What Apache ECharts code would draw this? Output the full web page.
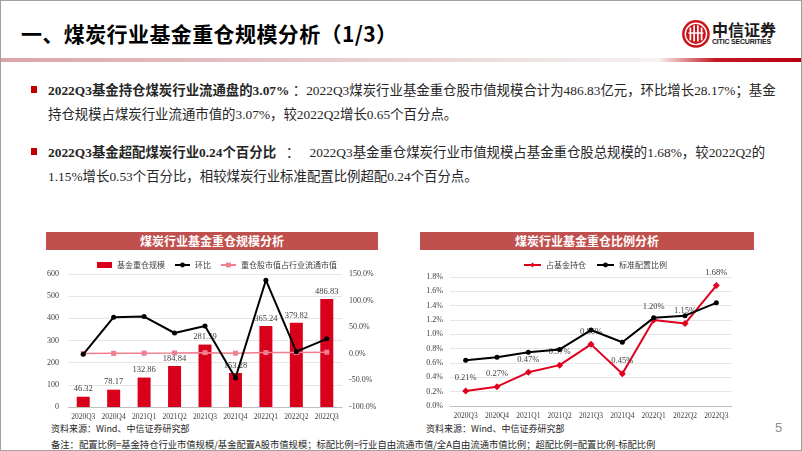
<!DOCTYPE html>
<html><head><meta charset="utf-8">
<script src="https://cdn.jsdelivr.net/npm/echarts@6/dist/echarts.min.js"></script>
<style>
html,body{margin:0;padding:0;background:#fff;}
#slide{position:relative;width:802px;height:451px;box-sizing:border-box;border:1px solid #a0a0a0;overflow:hidden;font-family:"Liberation Serif","Noto Sans CJK SC",serif;color:#262626;}
.abs{position:absolute;white-space:nowrap;}
#title{left:20px;top:17px;font-family:"Noto Sans CJK SC",sans-serif;font-weight:bold;font-size:21px;letter-spacing:0.4px;line-height:30px;color:#000;}
#band{left:0;top:57px;width:802px;height:4px;background:linear-gradient(to right,#dba5a8 0%,#e9cfd0 45%,#efe6e6 70%,#f6f2f2 82%,#c41a24 89%,#b8000f 100%);}
.bullet{width:6px;height:7px;background:#c00000;}
.line{font-size:13.4px;line-height:18px;}
.line b{font-weight:bold;}
.cj{font-family:"Noto Sans CJK SC",sans-serif;}
.tbar{background:#c0504d;color:#fff;font-family:"Noto Sans CJK SC",sans-serif;font-weight:bold;font-size:12px;text-align:center;line-height:18px;height:18px;}
.src{font-family:"Noto Sans CJK SC",sans-serif;font-size:9px;color:#262626;}
#chart{position:absolute;left:0;top:0;width:802px;height:451px;}
</style></head>
<body>
<div id="slide">
  <div class="abs" id="title">一、煤炭行业基金重仓规模分析（1/3）</div>
  <svg class="abs" style="left:680px;top:18px" width="32" height="32" viewBox="0 0 30 30">
    <circle cx="14" cy="14" r="13" fill="#c8161d"/>
    <circle cx="14" cy="14" r="10" fill="none" stroke="#fff" stroke-width="1.3"/>
    <rect x="8" y="8" width="1.6" height="12" fill="#fff"/>
    <rect x="11.5" y="6" width="1.6" height="15" fill="#fff"/>
    <rect x="15" y="6" width="1.6" height="15" fill="#fff"/>
    <rect x="18.5" y="8" width="1.6" height="12" fill="#fff"/>
    <rect x="7" y="12.5" width="14" height="1.4" fill="#fff"/>
  </svg>
  <div class="abs" style="left:711px;top:19px;font-family:'Noto Sans CJK SC',sans-serif;font-weight:bold;font-size:16px;line-height:18px;color:#1a1a1a;">中信证券</div>
  <div class="abs" style="left:711px;top:37px;font-family:'Liberation Sans',sans-serif;font-weight:bold;font-size:7px;line-height:8px;color:#1a1a1a;letter-spacing:-0.2px;">CITIC SECURITIES</div>
  <div class="abs" id="band"></div>

  <div class="abs bullet" style="left:30px;top:85px"></div>
  <div class="abs line" style="left:47px;top:79px"><b>2022Q3<span class="cj">基金持仓煤炭行业流通盘的</span>3.07%</b> <span class="cj">：</span>2022Q3<span class="cj">煤炭行业基金重仓股市值规模合计为</span>486.83<span class="cj">亿元，环比增长</span>28.17%<span class="cj">；基金</span></div>
  <div class="abs line" style="left:47px;top:103px"><span class="cj">持仓规模占煤炭行业流通市值的</span>3.07%<span class="cj">，较</span>2022Q2<span class="cj">增长</span>0.65<span class="cj">个百分点。</span></div>
  <div class="abs bullet" style="left:30px;top:147px"></div>
  <div class="abs line" style="left:47px;top:141px"><b>2022Q3<span class="cj">基金超配煤炭行业</span>0.24<span class="cj">个百分比</span></b>&nbsp;&nbsp;&nbsp;<span class="cj">：</span>&nbsp;&nbsp;&nbsp;2022Q3<span class="cj">基金重仓煤炭行业市值规模占基金重仓股总规模的</span>1.68%<span class="cj">，较</span>2022Q2<span class="cj">的</span></div>
  <div class="abs line" style="left:47px;top:165px">1.15%<span class="cj">增长</span>0.53<span class="cj">个百分比，相较煤炭行业标准配置比例超配</span>0.24<span class="cj">个百分点。</span></div>

  <div class="abs tbar" style="left:45px;top:231px;width:332px;">煤炭行业基金重仓规模分析</div>
  <div class="abs tbar" style="left:419px;top:231px;width:334px;">煤炭行业基金重仓比例分析</div>
  <div class="abs src" style="left:50px;top:421px">资料来源：Wind、中信证券研究部</div>
  <div class="abs src" style="left:425px;top:421px">资料来源：Wind、中信证券研究部</div>
  <div class="abs src" style="left:50px;top:436px;font-size:9.3px">备注：配置比例=基金持仓行业市值规模/基金配置A股市值规模；标配比例=行业自由流通市值/全A自由流通市值比例；超配比例=配置比例-标配比例</div>
  <div class="abs" style="left:774px;top:419px;font-family:'Liberation Sans',sans-serif;font-size:13px;color:#8c8c8c;">5</div>
  <div id="chart"></div>
</div>
<script>
// ---- data ----
var quarters = ['2020Q3','2020Q4','2021Q1','2021Q2','2021Q3','2021Q4','2022Q1','2022Q2','2022Q3'];
var holdingScale = [46.32, 78.17, 132.86, 184.84, 281.59, 153.28, 365.24, 379.82, 486.83];
var qoqGrowth = [-1.0, 68.8, 70.0, 39.1, 52.3, -45.6, 138.3, 4.0, 28.17];
var floatShare = [0.5, 0.8, 1.2, 1.5, 2.2, 1.2, 2.3, 2.42, 3.07];
var fundWeight = [0.21, 0.27, 0.47, 0.57, 0.86, 0.45, 1.20, 1.15, 1.68];
var standardWeight = [0.64, 0.68, 0.75, 0.79, 1.06, 0.89, 1.23, 1.26, 1.44];
var leftTicks = {min: 0, max: 600, interval: 100};
var rightTicks = {min: -100, max: 150, interval: 50};
var ratioTicks = {min: 0, max: 1.8, interval: 0.2};

var serif = 'Liberation Serif';
var sans = 'Noto Sans CJK SC';
var axisTxt = {fontFamily: serif, fontSize: 8, color: '#404040'};
var chart = echarts.init(document.getElementById('chart'), null, {renderer: 'canvas'});
chart.setOption({
  animation: false,
  legend: [
    {left: 91, top: 255, itemWidth: 15, itemHeight: 6, itemGap: 9,
     textStyle: {fontFamily: sans, fontSize: 8, color: '#404040'},
     data: [{name: '基金重仓规模', icon: 'rect'}, '环比', '重仓股市值占行业流通市值']},
    {left: 517, top: 255, itemWidth: 17, itemHeight: 6, itemGap: 10,
     textStyle: {fontFamily: sans, fontSize: 8, color: '#404040'},
     data: ['占基金持仓', '标准配置比例']}
  ],
  grid: [
    {left: 67, top: 273, width: 274, height: 133},
    {left: 449, top: 276, width: 282, height: 129}
  ],
  xAxis: [
    {type: 'category', gridIndex: 0, data: quarters,
     axisTick: {show: false}, axisLine: {lineStyle: {color: '#bfbfbf'}},
     axisLabel: Object.assign({margin: 6, interval: 0}, axisTxt, {fontSize: 7.5})},
    {type: 'category', gridIndex: 1, data: quarters,
     axisTick: {show: false}, axisLine: {lineStyle: {color: '#bfbfbf'}},
     axisLabel: Object.assign({margin: 6, interval: 0}, axisTxt, {fontSize: 7.5})}
  ],
  yAxis: [
    {type: 'value', gridIndex: 0, min: leftTicks.min, max: leftTicks.max, interval: leftTicks.interval,
     axisLine: {show: false}, axisTick: {show: false},
     splitLine: {lineStyle: {color: '#e6e6e6'}},
     axisLabel: Object.assign({margin: 9}, axisTxt)},
    {type: 'value', gridIndex: 0, position: 'right', min: rightTicks.min, max: rightTicks.max, interval: rightTicks.interval,
     axisLine: {show: false}, axisTick: {show: false}, splitLine: {show: false},
     axisLabel: Object.assign({margin: 7, formatter: function (v) { return v.toFixed(1) + '%'; }}, axisTxt)},
    {type: 'value', gridIndex: 1, min: ratioTicks.min, max: ratioTicks.max, interval: ratioTicks.interval,
     axisLine: {show: false}, axisTick: {show: false},
     splitLine: {lineStyle: {color: '#e6e6e6'}},
     axisLabel: Object.assign({margin: 7, formatter: function (v) { return v.toFixed(1) + '%'; }}, axisTxt)}
  ],
  series: [
    {name: '基金重仓规模', type: 'bar', xAxisIndex: 0, yAxisIndex: 0, data: holdingScale,
     barWidth: 13, itemStyle: {color: '#d9001b'},
     label: {show: true, position: 'top', distance: 3, fontFamily: serif, fontSize: 8.5, color: '#404040',
             formatter: function (p) { return p.value.toFixed(2); }}},
    {name: '环比', type: 'line', xAxisIndex: 0, yAxisIndex: 1, data: qoqGrowth, z: 4,
     symbol: 'circle', symbolSize: 5, lineStyle: {color: '#000', width: 2}, itemStyle: {color: '#000'}},
    {name: '重仓股市值占行业流通市值', type: 'line', xAxisIndex: 0, yAxisIndex: 1, data: floatShare, z: 3,
     symbol: 'rect', symbolSize: 5, lineStyle: {color: '#f07e8e', width: 1.5}, itemStyle: {color: '#f07e8e'}},
    {name: '占基金持仓', type: 'line', xAxisIndex: 1, yAxisIndex: 2, data: fundWeight, z: 3,
     symbol: 'diamond', symbolSize: 7, lineStyle: {color: '#e0001e', width: 2}, itemStyle: {color: '#e0001e'},
     label: {show: true, position: 'top', distance: 5, fontFamily: serif, fontSize: 8.5, color: '#404040',
             formatter: function (p) { return p.value.toFixed(2) + '%'; }}},
    {name: '标准配置比例', type: 'line', xAxisIndex: 1, yAxisIndex: 2, data: standardWeight, z: 4,
     symbol: 'circle', symbolSize: 5, lineStyle: {color: '#000', width: 2}, itemStyle: {color: '#000'}}
  ]
});
</script>
</body></html>
